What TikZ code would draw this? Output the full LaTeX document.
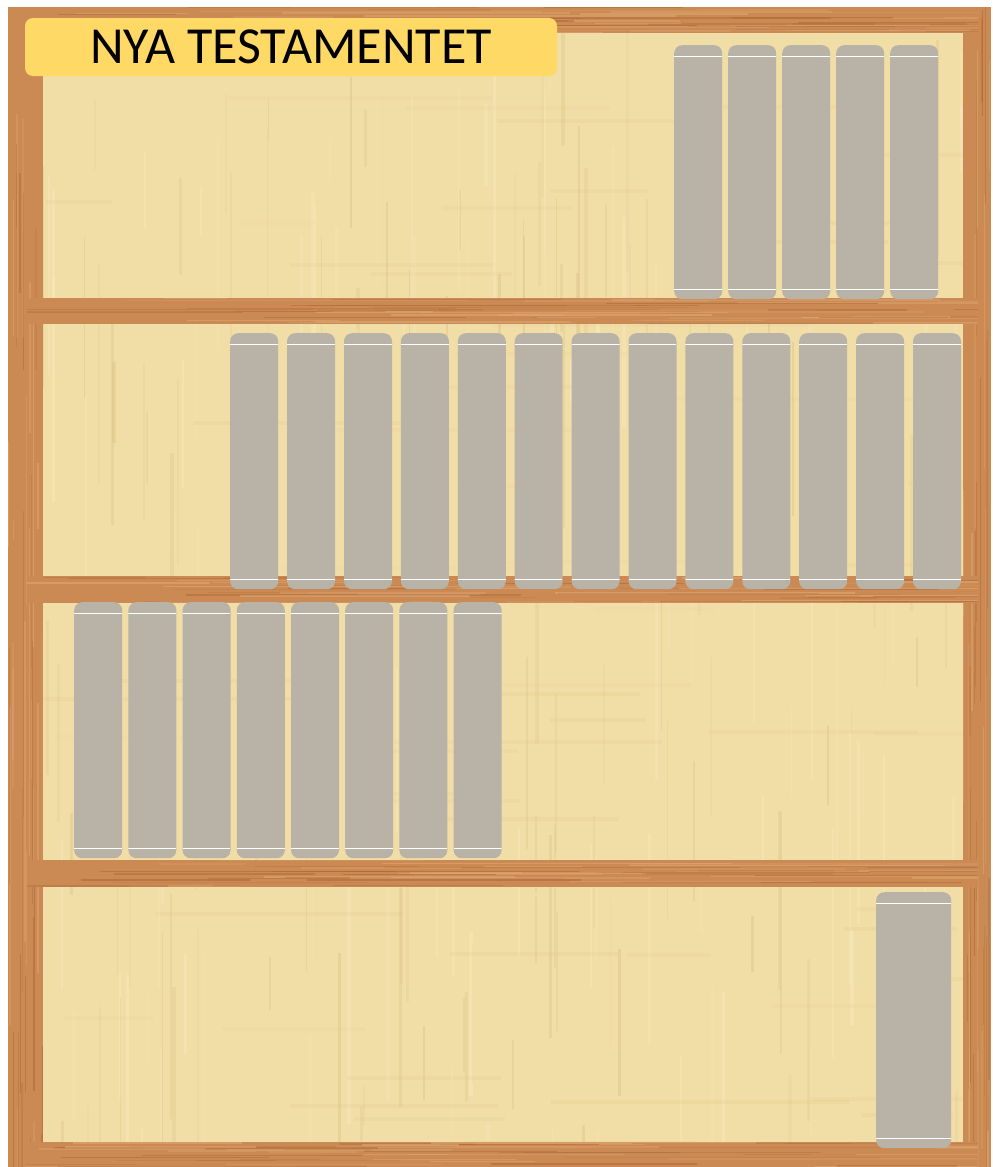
\documentclass[tikz,border=0pt]{standalone}
\usepackage{fontspec}
\setmainfont{Carlito}
\definecolor{wood}{RGB}{203,138,84}
\definecolor{woodlight}{RGB}{224,168,115}
\definecolor{wooddark}{RGB}{172,104,56}
\definecolor{papyrus}{RGB}{241,221,166}
\definecolor{papyrusL}{RGB}{250,237,195}
\definecolor{papyrusD}{RGB}{218,194,133}
\definecolor{bookgray}{RGB}{184,179,166}
\definecolor{titlegold}{RGB}{255,217,102}
\begin{document}
\begin{tikzpicture}[x=1pt,y=-1pt,
  bookbox/.style={fill=bookgray, draw=none, rounded corners=8pt, inner sep=0pt, anchor=north west,
    path picture={
      \draw[white, line width=1.4pt] ([yshift=-11pt]path picture bounding box.north west) -- ([yshift=-11pt]path picture bounding box.north east);
      \draw[white, line width=1.4pt] ([yshift=10pt]path picture bounding box.south west) -- ([yshift=10pt]path picture bounding box.south east);
    }},
  woodpart/.style={fill=wood, draw=none},
  titlebox/.style={fill=titlegold, draw=none, rounded corners=8pt, inner sep=0pt,
    minimum width=532pt, minimum height=58pt, font=\fontsize{52}{52}\selectfont, text=black}
]
\useasboundingbox (0,0) rectangle (993,1167);
\fill[white] (0,0) rectangle (993,1167);
\pgfmathsetseed{7}
% papyrus background
\fill[papyrus] (43,33) rectangle (963,1142);
\begin{scope}
  \clip (43,33) rectangle (963,1142);
  \foreach \i in {1,...,260}{
    \pgfmathsetmacro\xx{43+rnd*920}
    \pgfmathsetmacro\yy{20+rnd*1120}
    \pgfmathsetmacro\ll{40+rnd*220}
    \pgfmathsetmacro\op{0.12+rnd*0.3}
    \pgfmathsetmacro\ww{0.8+rnd*3}
    \ifodd\i
      \draw[papyrusD, opacity=\op, line width=\ww pt] (\xx,\yy) -- (\xx,\yy+\ll);
    \else
      \draw[papyrusL, opacity=\op, line width=\ww pt] (\xx,\yy) -- (\xx,\yy+\ll);
    \fi
  }
  \foreach \i in {1,...,60}{
    \pgfmathsetmacro\xx{20+rnd*900}
    \pgfmathsetmacro\yy{33+rnd*1110}
    \pgfmathsetmacro\ll{60+rnd*260}
    \pgfmathsetmacro\op{0.06+rnd*0.12}
    \draw[papyrusD, opacity=\op, line width=4pt] (\xx,\yy) -- (\xx+\ll,\yy);
  }
\end{scope}
% posts
\fill[woodpart] (8,7) rectangle (43,1167);
\fill[woodpart] (963,7) rectangle (991,1167);
\foreach \xa/\xb in {8/43, 963/991}{
  \begin{scope}
    \clip (\xa,7) rectangle (\xb,1167);
    \foreach \i in {1,...,40}{
      \pgfmathsetmacro\xx{\xa+rnd*(\xb-\xa)}
      \pgfmathsetmacro\yy{rnd*1160}
      \pgfmathsetmacro\ll{60+rnd*300}
      \pgfmathsetmacro\op{0.2+rnd*0.4}
      \ifodd\i
        \draw[wooddark, opacity=\op, line width=1.2pt] (\xx,\yy) -- (\xx,\yy+\ll);
      \else
        \draw[woodlight, opacity=\op, line width=1.6pt] (\xx,\yy) -- (\xx,\yy+\ll);
      \fi
    }
  \end{scope}
}
% rails
\foreach \ya/\yb in {7/33, 298/324, 576/603, 860/887, 1142/1167}{
  \fill[woodpart] (27,\ya) rectangle (978,\yb);
  \begin{scope}
    \clip (27,\ya) rectangle (978,\yb);
    \foreach \i in {1,...,45}{
      \pgfmathsetmacro\xx{rnd*960}
      \pgfmathsetmacro\yy{\ya+rnd*(\yb-\ya)}
      \pgfmathsetmacro\ll{60+rnd*300}
      \pgfmathsetmacro\op{0.2+rnd*0.4}
      \ifodd\i
        \draw[wooddark, opacity=\op, line width=1.2pt] (\xx,\yy) -- (\xx+\ll,\yy);
      \else
        \draw[woodlight, opacity=\op, line width=1.6pt] (\xx,\yy) -- (\xx+\ll,\yy);
      \fi
    }
  \end{scope}
}
% title
\node[titlebox] (title) at (291,47) {NYA TESTAMENTET};
% shelf 1 books
\foreach \i in {0,...,4}{
  \node[bookbox, minimum width=48pt, minimum height=254pt] (a\i) at ({674+54*\i},45) {};
}
% shelf 2 books
\foreach \i in {0,...,12}{
  \node[bookbox, minimum width=48pt, minimum height=256pt] (b\i) at ({230+56.9*\i},333) {};
}
% shelf 3 books
\foreach \i in {0,...,7}{
  \node[bookbox, minimum width=48pt, minimum height=256pt] (c\i) at ({74+54.2*\i},602) {};
}
% shelf 4 book
\node[bookbox, minimum width=75pt, minimum height=256pt] (d0) at (876,892) {};
\end{tikzpicture}
\end{document}
